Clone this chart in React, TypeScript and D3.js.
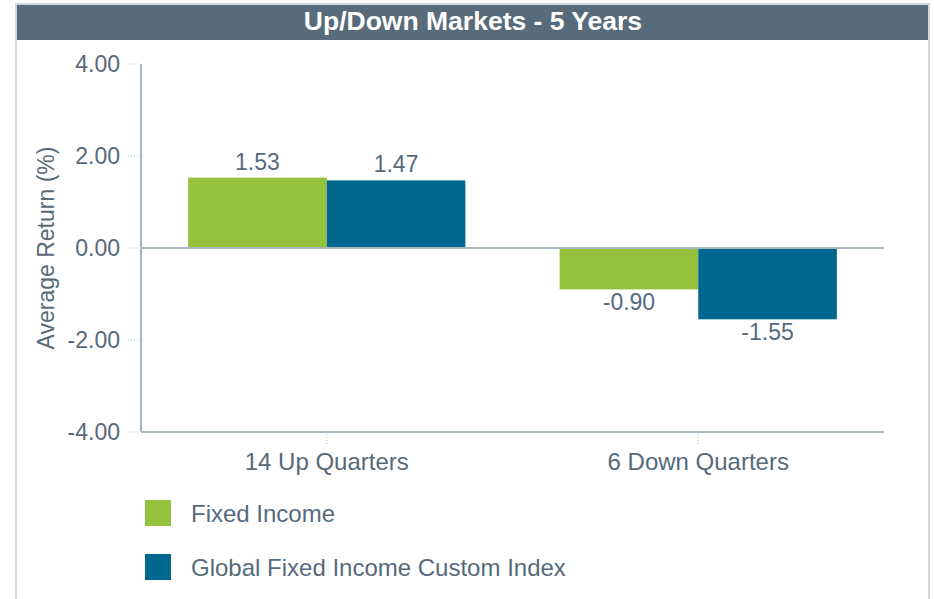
import * as React from "react"
import * as d3 from "d3"

const categories = ["14 Up Quarters", "6 Down Quarters"]
const seriesNames = ["Fixed Income", "Global Fixed Income Custom Index"]
const fixedIncome = [1.53, -0.9]
const customIndex = [1.47, -1.55]
const yTicks = [4, 2, 0, -2, -4]

const colors = ["#95c23d", "#00688f"]
const textColor = "#566a7c"
const axisColor = "#a7b4c1"
const font = "'Liberation Sans', Arial, sans-serif"

// plain hyphen instead of d3's unicode minus, like the source chart
const fmt = (v: number) => d3.format(".2f")(v).replace("\u2212", "-")

export default function App() {
    const width = 934
    const height = 599
    const plot = { left: 141, right: 884, top: 64, bottom: 432 }

    const y = d3.scaleLinear().domain([-4, 4]).range([plot.bottom, plot.top])
    const x0 = d3.scaleBand<string>().domain(categories).range([plot.left, plot.right])
    const x1 = d3.scaleBand<string>()
        .domain(seriesNames)
        .range([0, x0.bandwidth()])
        .paddingOuter(0.34)

    const series = [fixedIncome, customIndex]

    return (
        <svg width={width} height={height} style={{ position: "absolute", left: 0, top: 0, fontFamily: font }}>
            <rect x={0} y={0} width={width} height={height} fill="#fff" />
            {/* panel frame + header */}
            <rect x={16} y={4} width={913} height={620} fill="none" stroke="#cfd7df" strokeWidth={2} />
            <rect x={17} y={5} width={911} height={35} fill="#586b7b" />
            <text x={473} y={30} textAnchor="middle" fill="#fff" fontSize={26.5} fontWeight="bold">
                Up/Down Markets - 5 Years
            </text>

            {/* y ticks */}
            {yTicks.map(t => (
                <g key={t}>
                    <line x1={128} x2={138} y1={y(t)} y2={y(t)} stroke="#b5c0cb" strokeDasharray="1,2" />
                    <text x={120} y={y(t) + 8} textAnchor="end" fontSize={23} fill={textColor}>{fmt(t)}</text>
                </g>
            ))}
            <text
                transform={`translate(54,${y(0)}) rotate(-90)`}
                textAnchor="middle"
                fontSize={23}
                fill={textColor}
            >
                Average Return (%)
            </text>

            {/* bars */}
            {categories.map((c, ci) => (
                <g key={c} transform={`translate(${x0(c)},0)`}>
                    {series.map((s, si) => {
                        const v = s[ci]
                        const bx = x1(seriesNames[si])!
                        const bw = x1.bandwidth()
                        return (
                            <g key={si}>
                                <rect
                                    x={bx}
                                    y={Math.min(y(v), y(0))}
                                    width={bw}
                                    height={Math.abs(y(v) - y(0))}
                                    fill={colors[si]}
                                />
                                <text
                                    x={bx + bw / 2}
                                    y={v >= 0 ? y(v) - 8 : y(v) + 21}
                                    textAnchor="middle"
                                    fontSize={23}
                                    fill={textColor}
                                >
                                    {fmt(v)}
                                </text>
                            </g>
                        )
                    })}
                </g>
            ))}

            {/* axes */}
            <line x1={plot.left} x2={plot.left} y1={plot.top} y2={plot.bottom} stroke={axisColor} strokeWidth={2} />
            <line x1={plot.left} x2={plot.right} y1={plot.bottom} y2={plot.bottom} stroke={axisColor} strokeWidth={2} />
            <line x1={plot.left} x2={plot.right} y1={y(0)} y2={y(0)} stroke={axisColor} strokeWidth={2} />

            {/* x labels */}
            {categories.map(c => {
                const cx = x0(c)! + x0.bandwidth() / 2
                return (
                    <g key={c}>
                        <line x1={cx} x2={cx} y1={434} y2={444} stroke="#b5c0cb" strokeDasharray="1,2" />
                        <text x={cx} y={470} textAnchor="middle" fontSize={24} fill={textColor}>{c}</text>
                    </g>
                )
            })}

            {/* legend */}
            {seriesNames.map((n, i) => (
                <g key={n} transform={`translate(145,${500 + i * 54})`}>
                    <rect x={0} y={0} width={26} height={26} fill={colors[i]} />
                    <text x={46} y={22} fontSize={24} fill={textColor}>{n}</text>
                </g>
            ))}
        </svg>
    )
}
